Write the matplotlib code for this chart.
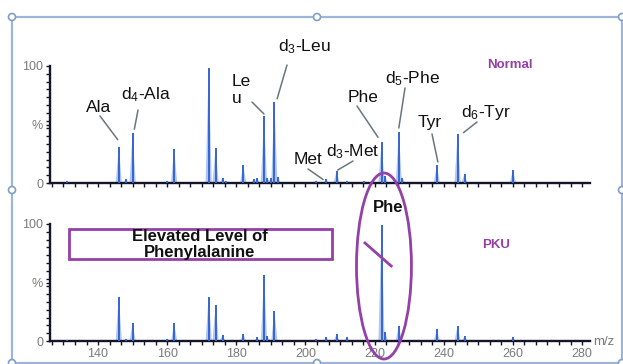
import matplotlib
matplotlib.use('Agg')
import matplotlib.pyplot as plt
from matplotlib.patches import Ellipse, Rectangle, Circle, ConnectionPatch
from matplotlib.ticker import MultipleLocator

plt.rcParams['font.family'] = ['Liberation Sans', 'DejaVu Sans']
plt.rcParams['mathtext.fontset'] = 'custom'
plt.rcParams['mathtext.rm'] = 'Liberation Sans'
plt.rcParams['mathtext.it'] = 'Liberation Sans:italic'
plt.rcParams['mathtext.bf'] = 'Liberation Sans:bold'

# ---------------- data ----------------
normal_mz = [131, 146, 148, 150, 160, 162, 172, 174, 176, 177, 182, 185, 186, 188, 189, 190,
             191, 192, 203, 206, 209, 212, 217, 222, 223, 227, 228, 238, 244, 246, 260]
normal_int = [1.5, 31, 3, 43, 2, 29, 98, 30, 4, 2, 15, 3, 4, 57, 4, 4,
              69, 5, 2, 3, 10, 2, 2, 35, 6, 44, 4, 15, 42, 8, 11]

pku_mz = [131, 146, 148, 150, 160, 162, 172, 174, 176, 182, 186, 188, 189, 191,
          203, 206, 209, 212, 222, 223, 227, 238, 244, 246, 260]
pku_int = [1, 38, 2, 15, 2, 15, 38, 31, 5, 6, 3, 56, 4, 26,
           2, 3, 6, 3, 99, 8, 13, 10, 13, 4, 3]

x_ticks = [140, 160, 180, 200, 220, 240, 260, 280]
y_ticks = [0, 50, 100]
y_ticklabels = ['0', '%', '100']

# labels of the normal spectrum: (text, peak m/z)
normal_labels = ['Ala', 'd$_4$-Ala', 'Le\nu', 'd$_3$-Leu', 'Met', 'd$_3$-Met',
                 'Phe', 'd$_5$-Phe', 'Tyr', 'd$_6$-Tyr']
normal_label_mz = [146, 150, 188, 191, 206, 209, 222, 227, 238, 244]

# ---------------- layout ----------------
W, H = 623, 364
fig = plt.figure(figsize=(W / 100, H / 100), dpi=100)

ov = fig.add_axes([0, 0, 1, 1], zorder=0)
ov.set_xlim(0, W)
ov.set_ylim(H, 0)
ov.axis('off')


def fa(x0, y0, x1, y1):
    return [x0 / W, 1 - y1 / H, (x1 - x0) / W, (y1 - y0) / H]


XMIN, XMAX = 126.1, 282.3
ax_top = fig.add_axes(fa(50, 66, 590, 183), zorder=1)
ax_bot = fig.add_axes(fa(50, 224, 590, 341), zorder=2)

PEAK = '#3565d4'
PEAKFILL = '#b0c6f2'
AXC = '#15152a'
GRAY = '#7a7a7a'
PURPLE = '#9440a8'

for ax, mz, it in [(ax_top, normal_mz, normal_int), (ax_bot, pku_mz, pku_int)]:
    ax.set_xlim(XMIN, XMAX)
    ax.set_ylim(0, 100)
    ax.patch.set_visible(False)
    for s in ['top', 'right']:
        ax.spines[s].set_visible(False)
    for s in ['left', 'bottom']:
        ax.spines[s].set_linewidth(1.7)
        ax.spines[s].set_color(AXC)
    for m, h in zip(mz, it):
        ax.fill([m - 0.9, m, m + 0.9], [0, h, 0], color=PEAKFILL, lw=0, zorder=2)
    ax.vlines(mz, 0, it, color=PEAK, lw=1.4, zorder=3)
    ax.set_yticks(y_ticks)
    ax.set_yticklabels(y_ticklabels)
    ax.yaxis.set_minor_locator(MultipleLocator(100 / 15))
    ax.set_xticks(x_ticks)
    ax.xaxis.set_minor_locator(MultipleLocator(20 / 6))
    ax.tick_params(which='both', direction='out', length=3, width=1, color=AXC,
                   labelcolor=GRAY, labelsize=9, pad=2)

ax_top.tick_params(axis='x', labelbottom=False)

# ---------------- annotations (normal) ----------------
text_pos = [(98.5, 107), (146, 95), (232, 90), (304, 47), (308, 160), (353, 152),
            (363, 97), (412, 79), (430, 123), (486, 113)]
line_start = [(100, 116), (138, 110), (252, 102), (287, 65), (308, 169), (353, 161),
              (357, 106), (405, 88), (432, 134), (477, 122)]
line_off = [(-0.3, 6), (0.5, 3), (0, 2), (0.8, 3), (-0.9, 0), (0.3, 1),
            (-1.0, 4), (0, 3), (0.3, 3), (1.7, 1)]

for lab, m, tp, ls, off in zip(normal_labels, normal_label_mz, text_pos, line_start, line_off):
    h = normal_int[normal_mz.index(m)]
    ha = 'left' if '\n' in lab else 'center'
    ov.text(tp[0], tp[1], lab, ha=ha, va='center', fontsize=12.5, color='#111111',
            linespacing=1.15, zorder=5)
    con = ConnectionPatch(xyA=ls, coordsA=ov.transData,
                          xyB=(m + off[0], h + off[1]), coordsB=ax_top.transData,
                          color='#66777f', lw=1.1, zorder=6)
    fig.add_artist(con)

ov.text(510, 65, 'Normal', ha='center', va='center', fontsize=9.5, fontweight='bold',
        color=PURPLE)
ov.text(496, 245, 'PKU', ha='center', va='center', fontsize=9.5, fontweight='bold',
        color=PURPLE)
ov.text(604, 342, 'm/z', ha='center', va='center', fontsize=9.5, color=GRAY)

# ---------------- PKU highlights ----------------
ax_bot.add_patch(Rectangle((131.6, 70.1), 207.7 - 131.6, 95.7 - 70.1, fill=False,
                           ec=PURPLE, lw=2, clip_on=False, zorder=4))
ax_bot.text(169.5, 82.5, 'Elevated Level of\nPhenylalanine', ha='center', va='center',
            fontsize=12, fontweight='bold', color='#111111', linespacing=1.05,
            clip_on=False, zorder=5)
ax_bot.add_patch(Ellipse((222.7, 64.1), 15.9, 159, fill=False, ec=PURPLE, lw=2,
                         clip_on=False, zorder=6))
ax_bot.plot([217.2, 224.8], [83.8, 64.1], color=PURPLE, lw=2, clip_on=False, zorder=6)
ax_bot.text(224.0, 113.7, 'Phe', ha='center', va='center', fontsize=12,
            fontweight='bold', color='#111111', clip_on=False, zorder=6)

# ---------------- selection frame ----------------
FR = '#9db6d8'
fx0, fy0, fx1, fy1 = 12, 17, 622, 363
ov.plot([fx0, fx1, fx1, fx0, fx0], [fy0, fy0, fy1, fy1, fy0], color=FR, lw=1.6,
        clip_on=False, zorder=1)
fmx, fmy = (fx0 + fx1) / 2, 190
for hx, hy in [(fx0, fy0), (fmx, fy0), (fx1, fy0), (fx0, fmy), (fx1, fmy),
               (fx0, fy1), (fmx, fy1), (fx1, fy1)]:
    ov.add_patch(Circle((hx, hy), 3.5, fc='white', ec='#7f9fc8', lw=1.2,
                        clip_on=False, zorder=2))

fig.savefig('out.png', dpi=100)
